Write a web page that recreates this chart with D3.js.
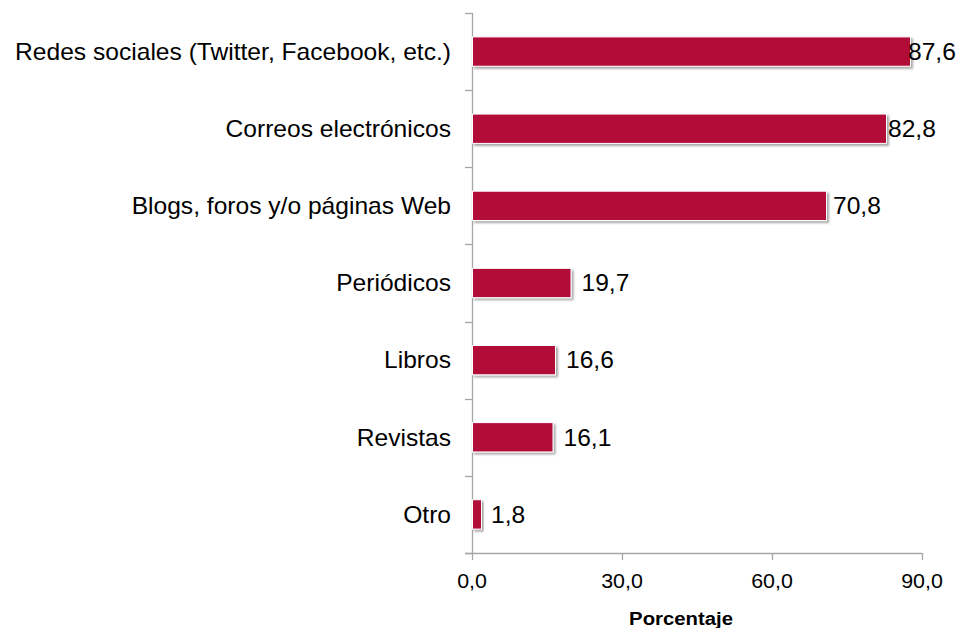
<!DOCTYPE html>
<html><head><meta charset="utf-8">
<script src="https://cdn.jsdelivr.net/npm/d3@7"></script>
<style>body{margin:0;background:#fff}svg{display:block}text{font-family:"Liberation Sans",Arial,sans-serif;fill:#000}</style>
</head><body>
<script>
const categories = ["Redes sociales (Twitter, Facebook, etc.)","Correos electrónicos","Blogs, foros y/o páginas Web ","Periódicos","Libros","Revistas","Otro"];
const values = [87.6, 82.8, 70.8, 19.7, 16.6, 16.1, 1.8];
const valueLabels = ["87,6","82,8","70,8","19,7","16,6","16,1","1,8"];
const xTicks = [0, 30, 60, 90];
const xTickLabels = ["0,0","30,0","60,0","90,0"];
const axisTitle = "Porcentaje";

const W = 961, H = 628;
const SX = 1.07; // slight horizontal stretch of the text in the reference
const svg = d3.select("body").append("svg").attr("width", W).attr("height", H);
const defs = svg.append("defs");
const f = defs.append("filter").attr("id","sh").attr("x","-10%").attr("y","-30%").attr("width","130%").attr("height","180%");
f.append("feDropShadow").attr("dx",2).attr("dy",2).attr("stdDeviation",1.3).attr("flood-color","#000").attr("flood-opacity",0.35);

const x = d3.scaleLinear().domain([0, 90]).range([472, 922]);
const y = d3.scaleBand().domain(categories).range([13, 553]).paddingInner(0.62).paddingOuter(0.31);
const yb = d3.scaleBand().domain(categories).range([13, 553]);
const axisColor = "#a6a6a6";
const labelGap = [-2, 2, 7, 11, 11, 11, 10];
const tr = (px, py) => `translate(${px},${py}) scale(${SX},1)`;

// y axis line + ticks between categories
const boundaries = d3.range(categories.length + 1).map(i => 13 + i * yb.step());
svg.append("line").attr("x1",472.5).attr("x2",472.5).attr("y1",13).attr("y2",553).attr("stroke",axisColor).attr("stroke-width",1.3);
svg.selectAll(".yt").data(boundaries).join("line").attr("x1",465).attr("x2",472.5)
  .attr("y1",d=>Math.round(d)+0.5).attr("y2",d=>Math.round(d)+0.5).attr("stroke",axisColor).attr("stroke-width",1.3);

// x axis
svg.append("line").attr("x1",465).attr("x2",x(90)).attr("y1",553.5).attr("y2",553.5).attr("stroke",axisColor).attr("stroke-width",1.3);
svg.selectAll(".xt").data(xTicks).join("line").attr("x1",d=>Math.round(x(d))+0.5).attr("x2",d=>Math.round(x(d))+0.5)
  .attr("y1",553).attr("y2",560).attr("stroke",axisColor).attr("stroke-width",1.3);
svg.selectAll(".xl").data(xTicks).join("text").attr("transform",d=>tr(x(d),588)).attr("text-anchor","middle")
  .attr("font-size",20).text((d,i)=>xTickLabels[i]);
svg.append("text").attr("transform",tr(681,625)).attr("text-anchor","middle").attr("font-size",19).attr("font-weight","bold").text(axisTitle);

// bars
svg.selectAll(".bar").data(values).join("rect")
  .attr("x", x(0)+0.5).attr("y",(d,i)=>y(categories[i]))
  .attr("width", d=>x(d)-x(0)).attr("height", y.bandwidth())
  .attr("fill","#B20838").attr("stroke","#fff").attr("stroke-width",1).attr("filter","url(#sh)");

// category labels
svg.selectAll(".cl").data(categories).join("text")
  .attr("transform",d=>tr(451, y(d)+y.bandwidth()/2)).attr("dy","0.36em").attr("text-anchor","end").attr("font-size",23).text(d=>d);

// value labels
svg.selectAll(".vl").data(values).join("text")
  .attr("transform",(d,i)=>tr(x(d)+labelGap[i], y(categories[i])+y.bandwidth()/2)).attr("dy","0.36em").attr("font-size",23).text((d,i)=>valueLabels[i]);
</script>
</body></html>
